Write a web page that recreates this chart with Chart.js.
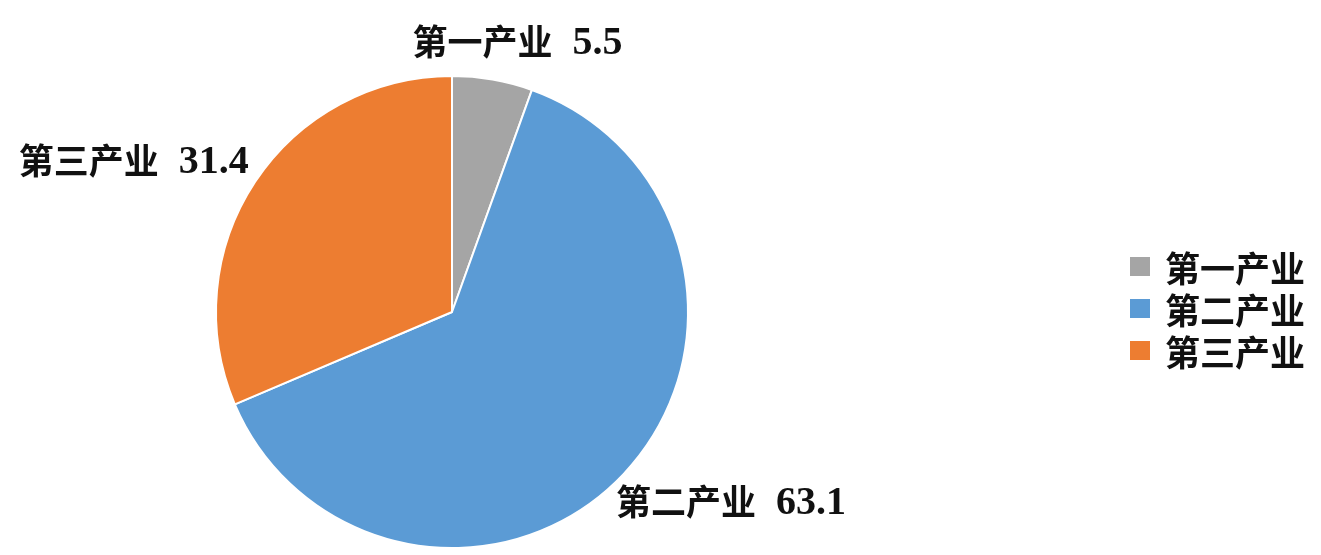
<!DOCTYPE html>
<html>
<head>
<meta charset="utf-8">
<script src="https://cdn.jsdelivr.net/npm/chart.js@4"></script>
<style>
  html, body { margin: 0; padding: 0; background: #fff; }
  #wrap { position: relative; width: 1321px; height: 555px; }
  #chart { position: absolute; left: 0; top: 0; }
  #legend { position: absolute; left: 1130px; top: 245px; font: bold 35px "Noto Sans CJK SC", sans-serif; color: #111; }
  #legend div { display: flex; align-items: center; height: 42px; }
  #legend span.box { display: inline-block; width: 20px; height: 19px; margin-right: 15px; }
</style>
</head>
<body>
<div id="wrap">
  <canvas id="chart" width="1321" height="555"></canvas>
  <div id="legend"></div>
</div>
<script>
'use strict';
const categories = ['第一产业', '第二产业', '第三产业'];
const shares = [5.5, 63.1, 31.4];
const colors = ['#A5A5A5', '#5B9BD5', '#ED7D31'];

(function(){
    const FONT_CJK = 'bold 35px "Noto Sans CJK SC", sans-serif';
    const FONT_NUM = 'bold 40px "Liberation Serif", serif';
    const GAP = 20;

    // labels outside each slice, placed from the arc's mid angle
    const sliceLabels = {
        id: 'sliceLabels',
        afterDatasetsDraw(chart) {
            const ctx = chart.ctx;
            const meta = chart.getDatasetMeta(0);
            ctx.save();
            ctx.fillStyle = '#111';
            ctx.textBaseline = 'alphabetic';
            ctx.textAlign = 'left';
            meta.data.forEach((arc, i) => {
                const mid = (arc.startAngle + arc.endAngle) / 2;
                const r = arc.outerRadius + 28;
                let x = arc.x + Math.cos(mid) * r;
                let y = arc.y + Math.sin(mid) * r;
                const name = categories[i];
                const num = shares[i].toFixed(1);
                ctx.font = FONT_CJK;
                const wName = ctx.measureText(name).width;
                ctx.font = FONT_NUM;
                const wNum = ctx.measureText(num).width;
                const w = wName + GAP + wNum;
                const cosv = Math.cos(mid);
                let left;
                if (Math.abs(cosv) < 0.3) {
                    left = x + 20 - w / 2; y -= 13;
                } else if (cosv < 0) {
                    left = x + 17 - w; y -= 8;
                } else {
                    left = x - 28; y += 6;
                }
                const base = y + 15;
                ctx.font = FONT_CJK;
                ctx.fillText(name, left, base + 1);
                ctx.font = FONT_NUM;
                ctx.fillText(num, left + wName + GAP, base);
            });
            ctx.restore();
        }
    };

    const chart = new Chart(document.getElementById('chart').getContext('2d'), {
        type: 'pie',
        data: {
            labels: categories,
            datasets: [{
                data: shares,
                backgroundColor: colors,
                borderColor: '#ffffff',
                borderWidth: 2
            }]
        },
        options: {
            responsive: false,
            animation: false,
            layout: { padding: { left: 0, right: 417, top: 75, bottom: 6 } },
            plugins: {
                legend: { display: false },
                tooltip: { enabled: false }
            }
        },
        plugins: [sliceLabels]
    });

    const legend = document.getElementById('legend');
    chart.data.labels.forEach((lab, i) => {
        const row = document.createElement('div');
        row.innerHTML = `<span class="box" style="background:${colors[i]}"></span>${lab}`;
        legend.appendChild(row);
    });
})();
</script>
</body>
</html>
